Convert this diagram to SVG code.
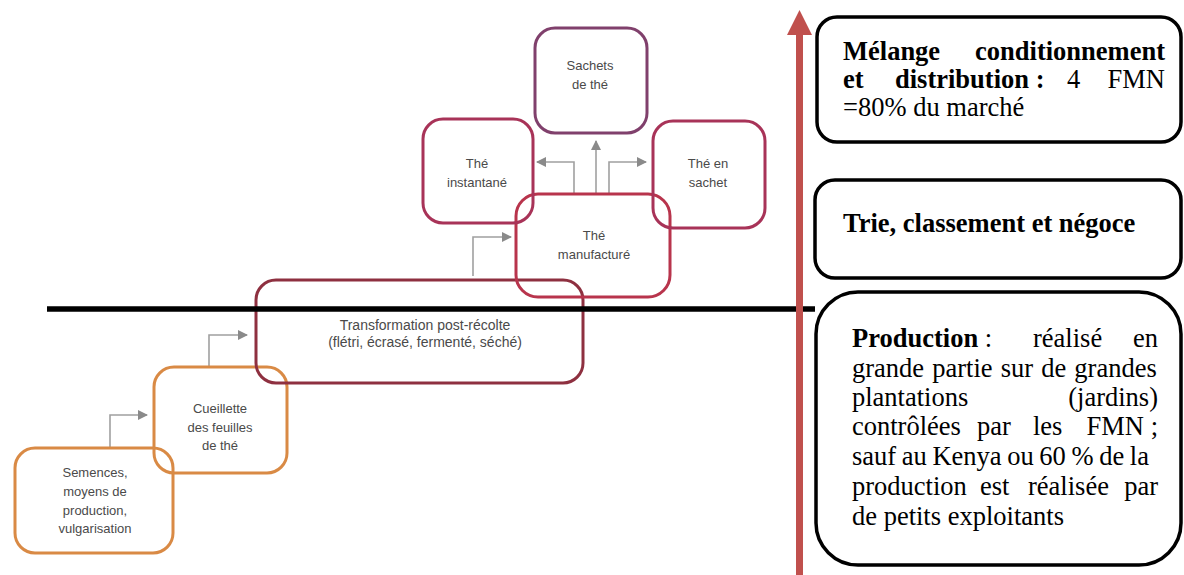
<svg xmlns="http://www.w3.org/2000/svg" width="1184" height="575" viewBox="0 0 1184 575">
<defs>
<marker id="ga" viewBox="0 0 10 10" refX="9" refY="5" markerWidth="10" markerHeight="10" markerUnits="userSpaceOnUse" orient="auto">
<path d="M0,0 L10,5 L0,10 Z" fill="#8a8a8a"/>
</marker>
<style>
.bx{fill:none;stroke-width:3}
.or{stroke:#d98a45}
.dr{stroke:#8e3040}
.cr{stroke:#b8344c}
.pk{stroke:#a83358}
.pu{stroke:#80406c}
.dt{font-family:"Liberation Sans",Arial,sans-serif;font-size:13px;fill:#4a4a4a;text-anchor:middle}
.con{fill:none;stroke:#a0a0a0;stroke-width:1.6}
.rb{fill:#fff;stroke:#000;stroke-width:3.5}
.rt{font-family:"Liberation Serif","Times New Roman",serif;font-size:26.5px;fill:#000}
.b{font-weight:bold}
.e{text-anchor:end}
</style>
</defs>
<rect width="1184" height="575" fill="#fff"/>

<g id="connectors">
<path class="con" d="M110,448 V415 H147" marker-end="url(#ga)"/>
<path class="con" d="M209,367 V335 H247" marker-end="url(#ga)"/>
<path class="con" d="M473,276 V237 H511" marker-end="url(#ga)"/>
<path class="con" d="M574,194 V162 H537" marker-end="url(#ga)"/>
<path class="con" d="M596,194 V141" marker-end="url(#ga)"/>
<path class="con" d="M609,194 V162 H646" marker-end="url(#ga)"/>
</g>

<g id="semences">
<rect class="bx or" x="15" y="448" width="158" height="105" rx="20"/>
<text class="dt" x="95" y="477">Semences,</text>
<text class="dt" x="95" y="496">moyens de</text>
<text class="dt" x="95" y="515">production,</text>
<text class="dt" x="95" y="533">vulgarisation</text>
</g>

<g id="cueillette">
<rect class="bx or" x="154" y="367" width="133" height="106" rx="20"/>
<text class="dt" x="220" y="413">Cueillette</text>
<text class="dt" x="220" y="432">des feuilles</text>
<text class="dt" x="220" y="450">de thé</text>
</g>

<g id="transformation">
<rect class="bx dr" x="256" y="280" width="327" height="103" rx="20"/>
<text class="dt" x="425" y="330" style="font-size:14px">Transformation post-récolte</text>
<text class="dt" x="425" y="347" style="font-size:14px">(flétri, écrasé, fermenté, séché)</text>
</g>

<g id="the-manufacture">
<rect class="bx cr" x="516" y="194" width="154" height="103" rx="22"/>
<text class="dt" x="594" y="240">Thé</text>
<text class="dt" x="594" y="259">manufacturé</text>
</g>

<g id="the-instantane">
<rect class="bx pk" x="423" y="119" width="110" height="104" rx="20"/>
<text class="dt" x="477" y="168">Thé</text>
<text class="dt" x="477" y="187">instantané</text>
</g>

<g id="sachets-de-the">
<rect class="bx pu" x="535" y="28" width="112" height="105" rx="20"/>
<text class="dt" x="590" y="70">Sachets</text>
<text class="dt" x="590" y="89">de thé</text>
</g>

<g id="the-en-sachet">
<rect class="bx pk" x="653" y="121" width="112" height="107" rx="20"/>
<text class="dt" x="708" y="168">Thé en</text>
<text class="dt" x="708" y="187">sachet</text>
</g>

<g id="separator">
<line x1="47" y1="309" x2="815" y2="309" stroke="#000" stroke-width="5.5"/>
</g>

<g id="red-arrow">
<line x1="799.5" y1="575" x2="799.5" y2="33" stroke="#c0504d" stroke-width="7"/>
<polygon points="799.5,10 787,35 812,35" fill="#c0504d"/>
</g>

<g id="box-melange">
<rect class="rb" x="817" y="17" width="364" height="125" rx="20"/>
<text class="rt b" x="843" y="60">Mélange</text>
<text class="rt b e" x="1165" y="60">conditionnement</text>
<text class="rt b" x="843" y="88">et</text>
<text class="rt b" x="895" y="88">distribution :</text>
<text class="rt" x="1067" y="88">4</text>
<text class="rt e" x="1165" y="88">FMN</text>
<text class="rt" x="843" y="116">=80% du marché</text>
</g>

<g id="box-trie">
<rect class="rb" x="815" y="180" width="366" height="98" rx="20"/>
<text class="rt b" x="843" y="232">Trie, classement et négoce</text>
</g>

<g id="box-production">
<rect class="rb" x="816" y="292" width="365" height="273" rx="42"/>
<text class="rt" x="852" y="347"><tspan class="b">Production</tspan> :</text>
<text class="rt" x="1033" y="347">réalisé</text>
<text class="rt e" x="1158" y="347">en</text>
<text class="rt" x="852" y="377" word-spacing="1.5">grande partie sur de grandes</text>
<text class="rt" x="852" y="406">plantations</text>
<text class="rt e" x="1158" y="406">(jardins)</text>
<text class="rt" x="852" y="435">contrôlées</text>
<text class="rt" x="977" y="435">par</text>
<text class="rt" x="1033" y="435">les</text>
<text class="rt e" x="1158" y="435">FMN ;</text>
<text class="rt" x="852" y="465" word-spacing="-1">sauf au Kenya ou 60 % de la</text>
<text class="rt" x="852" y="495">production</text>
<text class="rt" x="980" y="495">est</text>
<text class="rt" x="1028" y="495">réalisée</text>
<text class="rt e" x="1158" y="495">par</text>
<text class="rt" x="852" y="525">de petits exploitants</text>
</g>
</svg>
